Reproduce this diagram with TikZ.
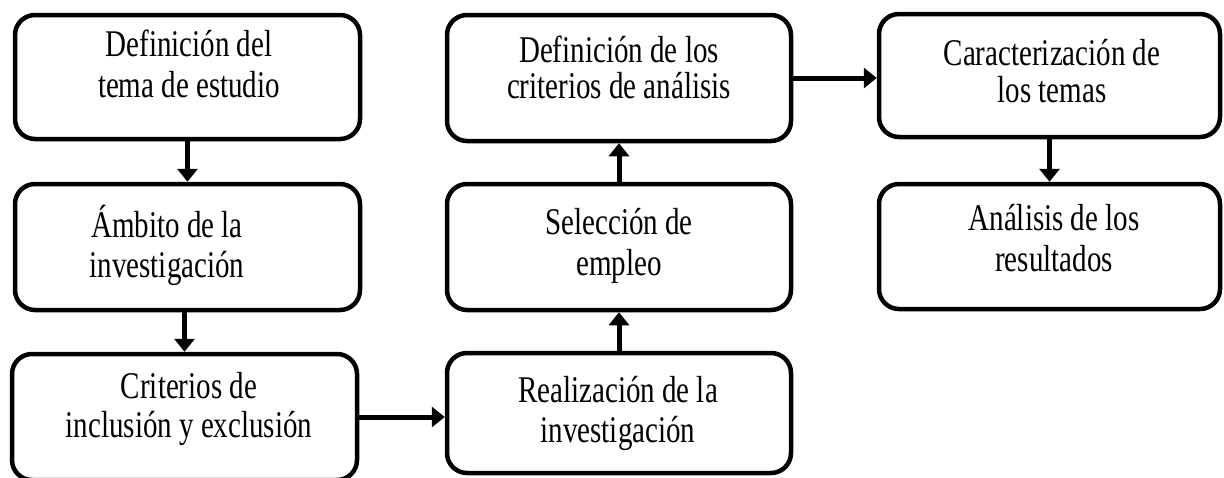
\documentclass[tikz,border=0pt]{standalone}
\usepackage{fontspec}
\usepackage{graphicx}
\setmainfont{Liberation Serif}
\usetikzlibrary{arrows.meta,calc}
\newcommand{\tallines}[2]{\fontsize{29}{#1}\selectfont\scalebox{1}[1.3]{\begin{tabular}{@{}c@{}}#2\end{tabular}}}
\begin{document}
\begin{tikzpicture}[x=1pt,y=-1pt,
  box/.style={draw, line width=4.5pt, rounded corners=20pt, rectangle, inner sep=0pt, minimum width=344pt},
  txt/.style={align=center, inner sep=0pt},
  arr/.style={line width=5pt, -{Triangle[length=13pt,width=20pt]}}]
\useasboundingbox (0,0) rectangle (1224,477);
% boxes
\node[box, minimum width=345pt, minimum height=124pt] (A) at (187.5,77) {};
\node[box, minimum width=345pt, minimum height=126pt] (B) at (187.5,247) {};
\node[box, minimum width=345pt, minimum height=126pt] (C) at (184.5,417) {};
\node[box, minimum height=126pt] (D) at (619,78) {};
\node[box, minimum height=126pt] (S) at (619,247) {};
\node[box, minimum height=120pt] (R) at (619,413) {};
\node[box, minimum width=341pt, minimum height=123pt] (K) at (1049.5,75.5) {};
\node[box, minimum width=341pt, minimum height=125pt] (N) at (1049.5,246.5) {};
% texts
\node[txt] (At) at (189,69) {\tallines{30.8}{Definición del\\tema de estudio}};
\node[txt] (Bt) at (167,247) {\tallines{30.8}{Ámbito de la\\investigación}};
\node[txt] (Ct) at (189,409.7) {\tallines{30}{Criterios de\\inclusión y exclusión}};
\node[txt] (Dt) at (619,72) {\tallines{25.4}{Definición de los\\criterios de análisis}};
\node[txt] (St) at (619,247) {\tallines{30.8}{Selección de\\empleo}};
\node[txt] (Rt) at (618,414.3) {\tallines{31.5}{Realización de la\\investigación}};
\node[txt] (Kt) at (1052,76.4) {\tallines{29.2}{Caracterización de\\los temas}};
\node[txt] (Nt) at (1054,242.6) {\tallines{32.3}{Análisis de los\\resultados}};
% arrows
\draw[arr] (A.south) -- (B.north);
\draw[arr] (B.south -| C.north) -- (C.north);
\draw[arr] (C.east) -- (C.east -| R.west);
\draw[arr] (R.north) -- (S.south);
\draw[arr] (S.north) -- (D.south);
\draw[arr] (D.east) -- (D.east -| K.west);
\draw[arr] (K.south) -- (N.north);
\end{tikzpicture}
\end{document}
